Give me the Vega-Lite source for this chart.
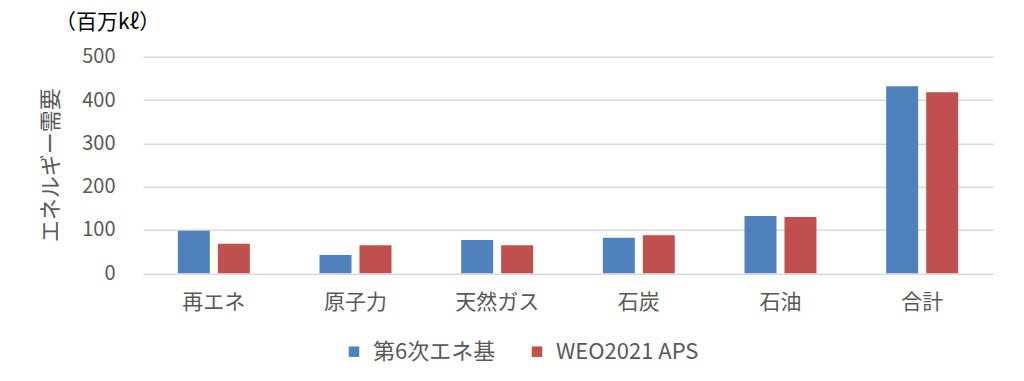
{
  "$schema": "https://vega.github.io/schema/vega-lite/v6.json",
  "width": 850,
  "height": 216.6,
  "autosize": "none",
  "padding": {"left": 143, "top": 56.7, "right": 31, "bottom": 108},
  "background": "white",
  "title": {
    "text": "（百万kℓ）",
    "anchor": "start",
    "frame": "group",
    "dx": -88,
    "offset": 14,
    "font": "Noto Sans CJK JP",
    "fontSize": 21,
    "fontWeight": "normal",
    "color": "#000000"
  },
  "data": {
    "values": [
      {"cat": "再エネ", "series": "第6次エネ基", "value": 98},
      {"cat": "再エネ", "series": "WEO2021 APS", "value": 68},
      {"cat": "原子力", "series": "第6次エネ基", "value": 42},
      {"cat": "原子力", "series": "WEO2021 APS", "value": 65},
      {"cat": "天然ガス", "series": "第6次エネ基", "value": 77},
      {"cat": "天然ガス", "series": "WEO2021 APS", "value": 65},
      {"cat": "石炭", "series": "第6次エネ基", "value": 82},
      {"cat": "石炭", "series": "WEO2021 APS", "value": 88},
      {"cat": "石油", "series": "第6次エネ基", "value": 132},
      {"cat": "石油", "series": "WEO2021 APS", "value": 130},
      {"cat": "合計", "series": "第6次エネ基", "value": 432},
      {"cat": "合計", "series": "WEO2021 APS", "value": 418}
    ]
  },
  "mark": {"type": "bar"},
  "encoding": {
    "x": {
      "field": "cat",
      "type": "nominal",
      "sort": ["再エネ", "原子力", "天然ガス", "石炭", "石油", "合計"],
      "scale": {"paddingInner": 0.492, "paddingOuter": 0.246},
      "axis": {
        "title": null,
        "labelAngle": 0,
        "ticks": false,
        "domain": false,
        "labelPadding": 18,
        "labelFont": "Noto Sans CJK JP",
        "labelFontSize": 21,
        "labelColor": "#595959"
      }
    },
    "xOffset": {
      "field": "series",
      "type": "nominal",
      "sort": ["第6次エネ基", "WEO2021 APS"],
      "scale": {"paddingInner": 0.2, "paddingOuter": 0}
    },
    "y": {
      "field": "value",
      "type": "quantitative",
      "scale": {"domain": [0, 500], "nice": false},
      "axis": {
        "values": [0, 100, 200, 300, 400, 500],
        "title": "エネルギー需要",
        "titleFont": "Noto Sans CJK JP",
        "titleFontSize": 22,
        "titleFontWeight": "normal",
        "titleColor": "#595959",
        "titleAngle": -90,
        "titleX": -93,
        "titleY": 108,
        "titleAlign": "center",
        "titleBaseline": "middle",
        "ticks": false,
        "domain": false,
        "labelPadding": 28,
        "labelFont": "Noto Sans CJK JP",
        "labelFontSize": 20,
        "labelColor": "#595959",
        "gridColor": "#d9d9d9",
        "gridWidth": 1.5
      }
    },
    "color": {
      "field": "series",
      "type": "nominal",
      "sort": ["第6次エネ基", "WEO2021 APS"],
      "scale": {"domain": ["第6次エネ基", "WEO2021 APS"], "range": ["#4F81BD", "#C0504D"]},
      "legend": {
        "title": null,
        "orient": "none",
        "direction": "horizontal",
        "legendX": 200,
        "legendY": 284,
        "symbolType": "square",
        "symbolSize": 110,
        "symbolStrokeWidth": 0,
        "labelFont": "Noto Sans CJK JP",
        "labelFontSize": 22,
        "labelColor": "#595959",
        "columnPadding": 30,
        "labelOffset": 8
      }
    }
  },
  "config": {"view": {"stroke": null}}
}
